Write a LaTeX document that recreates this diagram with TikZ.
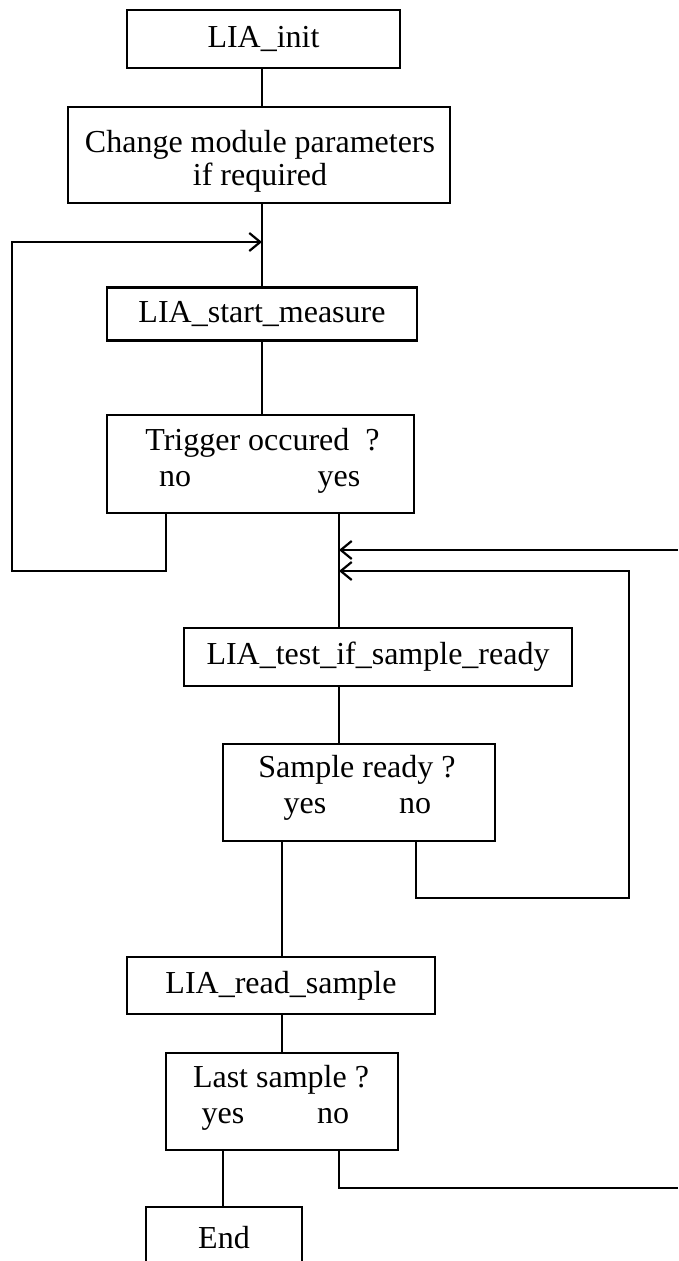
\documentclass[tikz,border=0pt]{standalone}
\usepackage{fontspec}
\setmainfont{Liberation Serif}
\usetikzlibrary{arrows.meta}
\begin{document}
\begin{tikzpicture}[x=1pt,y=-1pt,
  box/.style={draw,line width=2.2pt,inner sep=0pt,font=\fontsize{32}{36}\selectfont},
  lbl/.style={anchor=base,inner sep=0pt,font=\fontsize{32}{36}\selectfont},
  conn/.style={line width=2.2pt},
  arr/.style={line width=2.2pt,-{Straight Barb[length=11pt,width=18pt,line width=2.2pt]}}]
\useasboundingbox (0,0) rectangle (678,1261);
% boxes
\node[box,minimum width=273pt,minimum height=58pt] (init) at (263.5,39) {LIA\_init};
\node[box,minimum width=382pt,minimum height=96pt] (change) at (259,155) {};
\node[box,minimum width=310pt,minimum height=53pt] (start) at (262,314) {LIA\_start\_measure};
\node[box,minimum width=307pt,minimum height=98pt] (trig) at (260.5,464) {};
\node[box,minimum width=388pt,minimum height=58pt] (test) at (378,657) {LIA\_test\_if\_sample\_ready};
\node[box,minimum width=272pt,minimum height=97pt] (ready) at (359,792.5) {};
\node[box,minimum width=308pt,minimum height=57pt] (read) at (281,985.5) {LIA\_read\_sample};
\node[box,minimum width=232pt,minimum height=97pt] (last) at (282,1101.5) {};
\node[box,minimum width=156pt,minimum height=60pt,text depth=0pt] (end) at (224,1237) {End};
% labels
\node[lbl] (chg1) at (260,152) {Change module parameters};
\node[lbl] (chg2) at (260,185) {if required};
\node[lbl] (trq) at (262.5,450) {Trigger occured\ \ ?};
\node[lbl] (trno) at (175,486) {no};
\node[lbl] (tryes) at (339,486) {yes};
\node[lbl] (srq) at (357,777) {Sample ready ?};
\node[lbl] (sryes) at (305,813) {yes};
\node[lbl] (srno) at (415,813) {no};
\node[lbl] (lsq) at (281,1087) {Last sample ?};
\node[lbl] (lsyes) at (223,1123) {yes};
\node[lbl] (lsno) at (333,1123) {no};
% helper coordinates
\coordinate (xA) at (262,0);
\coordinate (noA) at (166,0);
\coordinate (yesA) at (339,0);
\coordinate (noB) at (416,0);
\coordinate (yesB) at (282,0);
\coordinate (yesC) at (223,0);
\coordinate (noC) at (339,0);
\coordinate (joinA) at (262,242);
\coordinate (loopL) at (12,571);
\coordinate (rin) at (678,550);
\coordinate (joinB) at (339,571);
\coordinate (loopB) at (629,898);
\coordinate (rout) at (678,1188);
% connectors
\draw[conn] (init.south -| xA) -- (change.north -| xA);
\draw[conn] (change.south -| xA) -- (start.north -| xA);
\draw[conn] (start.south -| xA) -- (trig.north -| xA);
\draw[arr] (trig.south -| noA) |- (loopL) |- (joinA);
\draw[conn] (trig.south -| yesA) -- (test.north -| yesA);
\draw[arr] (rin) -- (rin -| yesA);
\draw[arr] (ready.south -| noB) |- (loopB) |- (joinB);
\draw[conn] (test.south -| yesA) -- (ready.north -| yesA);
\draw[conn] (ready.south -| yesB) -- (read.north -| yesB);
\draw[conn] (read.south -| yesB) -- (last.north -| yesB);
\draw[conn] (last.south -| yesC) -- (end.north -| yesC);
\draw[conn] (last.south -| noC) |- (rout);
\end{tikzpicture}
\end{document}
